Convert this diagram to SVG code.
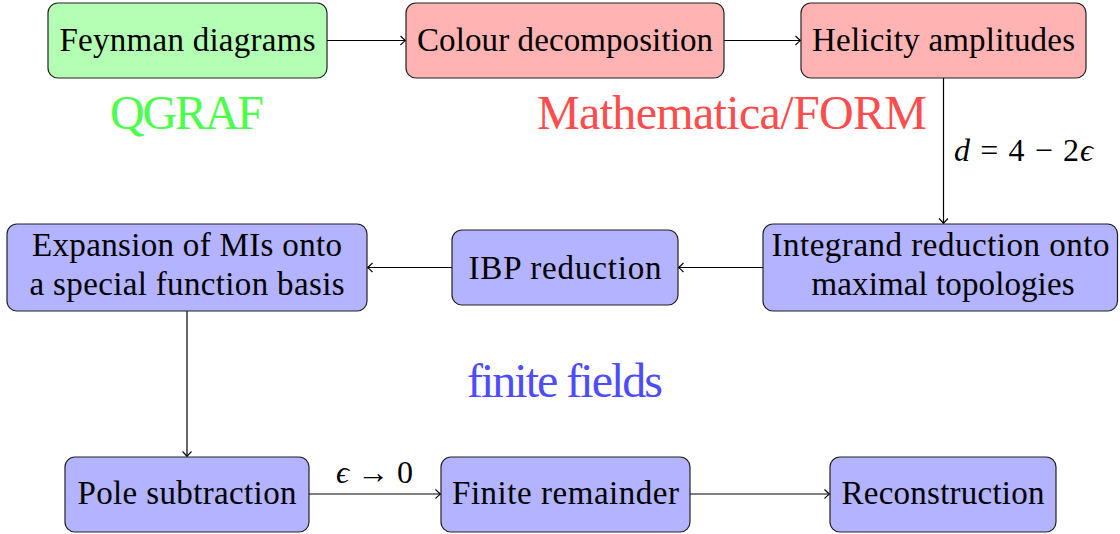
<svg xmlns="http://www.w3.org/2000/svg" width="1120" height="534" viewBox="0 0 1120 534">
<style>
.box{stroke:#222;stroke-width:1.2}
.g{fill:#b3ffb3}.r{fill:#ffb3b3}.b{fill:#b3b3ff}
.t{font-family:"Liberation Serif","DejaVu Serif",serif;font-size:33px;fill:#000;text-anchor:middle}
.big{font-family:"Liberation Serif","DejaVu Serif",serif;font-size:48px;text-anchor:middle}
.m{font-family:"Liberation Serif","DejaVu Serif",serif;font-size:32px;fill:#000}
.c{stroke:#000;stroke-width:1.2;fill:none;marker-end:url(#ah)}
</style>
<defs>
<marker id="ah" markerUnits="userSpaceOnUse" markerWidth="12" markerHeight="12" viewBox="-7 -6 8 12" refX="0" refY="0" orient="auto">
<path d="M-5,-4.5 Q-1.5,-1 0,0 Q-1.5,1 -5,4.5" fill="none" stroke="#000" stroke-width="1.1"/>
</marker>
</defs>
<g id="connectors">
<line class="c" x1="327" y1="40.5" x2="405.5" y2="40.5"/>
<line class="c" x1="724" y1="40.5" x2="800.5" y2="40.5"/>
<line class="c" x1="943.5" y1="78" x2="943.5" y2="223.5"/>
<line class="c" x1="763" y1="267.5" x2="678.5" y2="267.5"/>
<line class="c" x1="452" y1="267.5" x2="367.5" y2="267.5"/>
<line class="c" x1="187" y1="311" x2="187" y2="456.5"/>
<line class="c" x1="309" y1="494" x2="440.5" y2="494"/>
<line class="c" x1="690" y1="494" x2="829.5" y2="494"/>
<text class="m" x="954" y="161" textLength="139" lengthAdjust="spacing"><tspan font-style="italic">d</tspan> = 4 − 2<tspan font-style="italic">ϵ</tspan></text>
<text class="m" x="336" y="483" textLength="77" lengthAdjust="spacing"><tspan font-style="italic">ϵ</tspan> → 0</text>
</g>
<g id="feynman">
<rect class="box g" x="48" y="3" width="279" height="75" rx="10"/>
<text class="t" x="187.5" y="51" textLength="256" lengthAdjust="spacing">Feynman diagrams</text>
</g>
<g id="colour">
<rect class="box r" x="406" y="3" width="318" height="75" rx="10"/>
<text class="t" x="565" y="51" textLength="296" lengthAdjust="spacing">Colour decomposition</text>
</g>
<g id="helicity">
<rect class="box r" x="801" y="3" width="285" height="75" rx="10"/>
<text class="t" x="943.5" y="51" textLength="263" lengthAdjust="spacing">Helicity amplitudes</text>
</g>
<g id="label-qgraf">
<text class="big" x="187" y="129" fill="#4dff4d" textLength="154" lengthAdjust="spacing">QGRAF</text>
</g>
<g id="label-mathematica">
<text class="big" x="732" y="129" fill="#ff4d4d" textLength="390" lengthAdjust="spacing">Mathematica/FORM</text>
</g>
<g id="integrand">
<rect class="box b" x="763" y="224" width="354.5" height="87" rx="10"/>
<text class="t" x="940.5" y="256" textLength="338" lengthAdjust="spacing">Integrand reduction onto</text>
<text class="t" x="943" y="295" textLength="263" lengthAdjust="spacing">maximal topologies</text>
</g>
<g id="ibp">
<rect class="box b" x="452" y="230" width="226" height="75" rx="10"/>
<text class="t" x="565" y="279" textLength="193" lengthAdjust="spacing">IBP reduction</text>
</g>
<g id="expansion">
<rect class="box b" x="7" y="224" width="360" height="87" rx="10"/>
<text class="t" x="187" y="256" textLength="310" lengthAdjust="spacing">Expansion of MIs onto</text>
<text class="t" x="187" y="295" textLength="315" lengthAdjust="spacing">a special function basis</text>
</g>
<g id="label-finite-fields">
<text class="big" x="565" y="397" fill="#4d4dff" textLength="196" lengthAdjust="spacing">finite fields</text>
</g>
<g id="pole">
<rect class="box b" x="65" y="457" width="244" height="75" rx="10"/>
<text class="t" x="187" y="504" textLength="219" lengthAdjust="spacing">Pole subtraction</text>
</g>
<g id="finite">
<rect class="box b" x="441" y="457" width="249" height="75" rx="10"/>
<text class="t" x="565.5" y="504" textLength="227" lengthAdjust="spacing">Finite remainder</text>
</g>
<g id="reconstruction">
<rect class="box b" x="830" y="457" width="226" height="75" rx="10"/>
<text class="t" x="943" y="504" textLength="203" lengthAdjust="spacing">Reconstruction</text>
</g>
</svg>
